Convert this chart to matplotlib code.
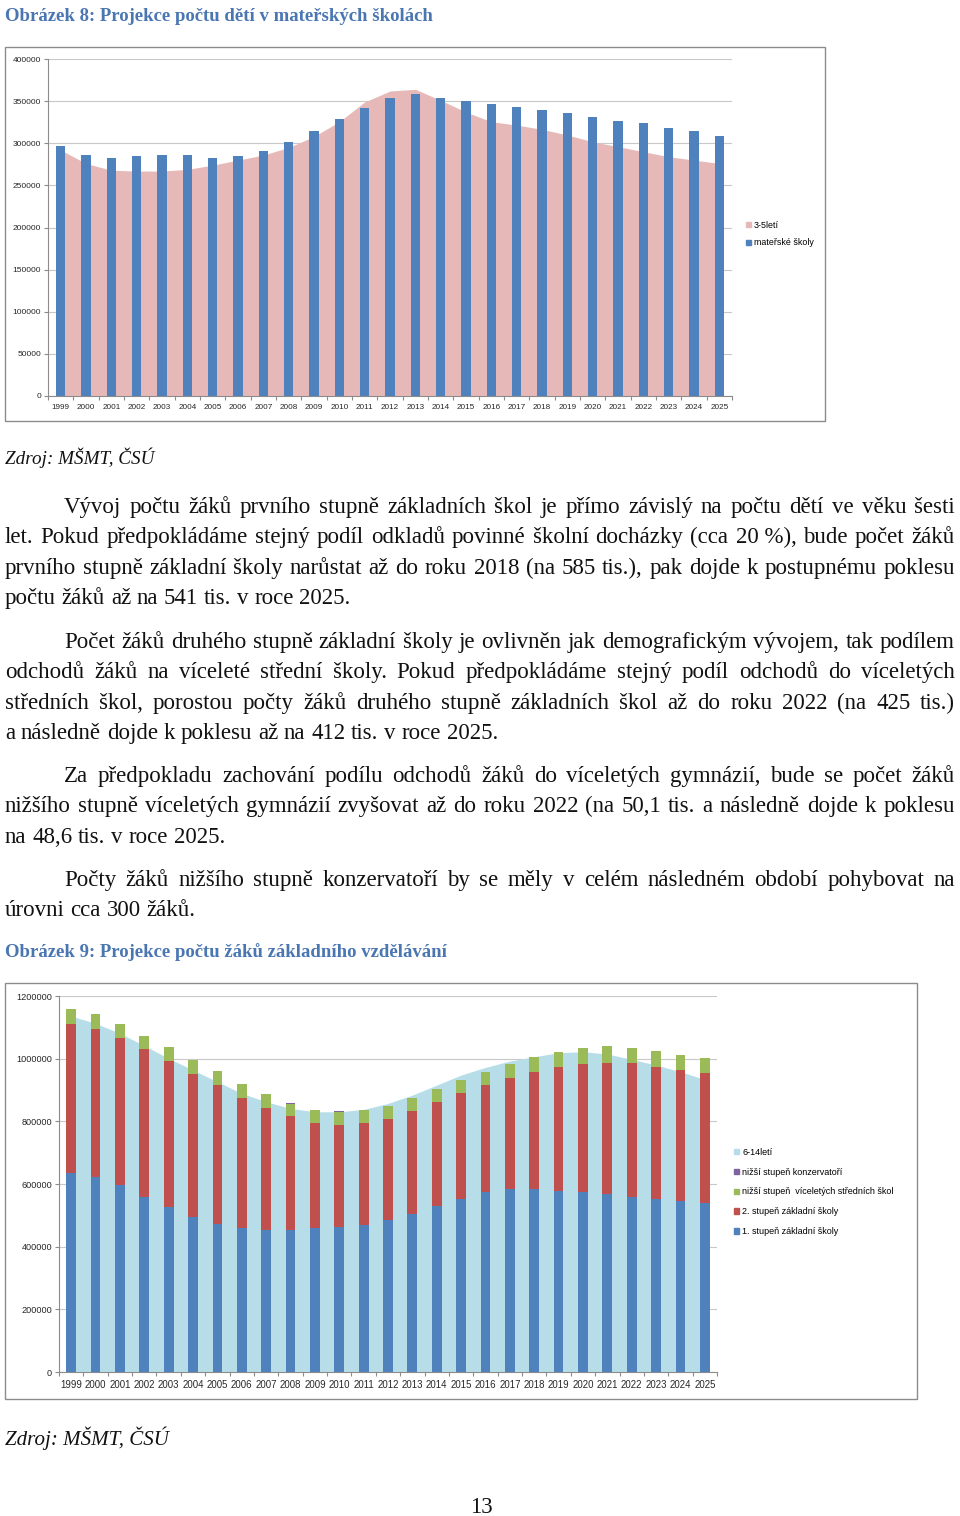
import matplotlib
matplotlib.use("Agg")
import matplotlib.pyplot as plt
from matplotlib.patches import Patch, Rectangle

# ---------------- data ----------------
years = [str(y) for y in range(1999, 2026)]

# Chart 1 (Obrázek 8)
deti_3_5 = [292000, 276000, 268000, 267000, 267000, 269000, 274000, 280000, 286000,
            295000, 308000, 325600, 349000, 362000, 364000, 351000, 337000, 325600,
            321600, 316500, 309800, 301800, 296000, 290000, 284000, 280000, 276000]
materske_skoly = [296700, 285600, 282100, 284800, 286400, 286000, 282100, 285200, 291200,
                  301400, 314100, 328700, 342200, 354100, 358000, 354100, 349700, 346500,
                  343000, 339400, 335500, 331100, 326800, 323600, 318100, 314500, 309000]

# Chart 2 (Obrázek 9)
deti_6_14 = [1136000, 1112700, 1080800, 1041400, 1001000, 963600, 926400, 889100, 862500,
             841200, 830500, 830500, 838000, 857200, 883800, 915700, 947700, 972200,
             992400, 1006200, 1019000, 1022200, 1014800, 997700, 979600, 958300, 933800]
stupen1 = [635700, 622900, 596300, 559000, 528100, 496200, 471700, 461100, 454700,
           454700, 458900, 463200, 470600, 485500, 505800, 530300, 553700, 572900,
           582500, 585000, 578200, 573900, 566500, 560100, 551600, 547300, 540500]
stupen2 = [475900, 472800, 468500, 471700, 464300, 455700, 444000, 413100, 388600,
           360900, 334400, 324800, 322700, 320500, 325800, 331100, 336500, 342800,
           356600, 373300, 396100, 410000, 420600, 424800, 421600, 416300, 412300]
gymnazia = [46600, 46500, 45500, 42300, 43300, 43400, 43400, 44400, 43400,
            41300, 42300, 43300, 43300, 42300, 42300, 41300, 41200, 42300,
            43400, 45500, 47600, 49700, 51800, 50100, 51900, 48700, 48600]
konzervatore = [300] * 27

c_pink = "#E6B9B8"
c_blue = "#4F81BD"
c_red = "#C0504D"
c_green = "#9BBB59"
c_purple = "#8064A2"
c_light = "#B7DEE8"
c_grid = "#C8C8C8"
c_axis = "#8C8C8C"
c_head = "#4A76B2"
c_tick = "#262626"

W, H = 960, 1516
fig = plt.figure(figsize=(W / 100, H / 100), dpi=100)
renderer = fig.canvas.get_renderer()

def fx(x):
    return x / W

def fy(y):
    return 1 - y / H

def ax_px(x0, y0, x1, y1):
    return fig.add_axes([fx(x0), fy(y1), (x1 - x0) / W, (y1 - y0) / H])

def frame(x0, y0, x1, y1):
    fig.patches.append(Rectangle((fx(x0), fy(y1)), (x1 - x0) / W, (y1 - y0) / H,
                                 transform=fig.transFigure, fill=False,
                                 edgecolor="#8C8C8C", linewidth=1.0))

def style_axes(ax, n, ymax, ystep, ysize, xsize, xpad):
    ax.set_xlim(-0.5, n - 0.5)
    ax.set_ylim(0, ymax)
    ticks = list(range(0, ymax + 1, ystep))
    ax.set_yticks(ticks)
    ax.set_yticklabels([str(t) for t in ticks], fontsize=ysize, color=c_tick,
                       family="Liberation Sans")
    ax.set_xticks(range(n))
    ax.set_xticklabels(years, fontsize=xsize, color=c_tick, family="Liberation Sans")
    ax.set_xticks([i - 0.5 for i in range(n + 1)], minor=True)
    ax.tick_params(axis="x", which="major", length=0, pad=xpad)
    ax.tick_params(axis="x", which="minor", length=3, color=c_axis, width=0.8)
    ax.tick_params(axis="y", length=3, color=c_axis, width=0.8, pad=2)
    for s in ["top", "right"]:
        ax.spines[s].set_visible(False)
    for s in ["left", "bottom"]:
        ax.spines[s].set_color(c_axis)
        ax.spines[s].set_linewidth(0.8)
    ax.yaxis.grid(True, color=c_grid, linewidth=0.8, zorder=0)
    ax.set_axisbelow(True)
    ax.patch.set_alpha(0)

x = list(range(len(years)))

# ---------------- chart 1 ----------------
frame(5, 47, 825, 421)
ax1 = ax_px(48, 59, 732, 396)
ax1.fill_between(x, deti_3_5, 0, color=c_pink, linewidth=0, zorder=1)
ax1.bar(x, materske_skoly, width=0.37, color=c_blue, zorder=2)
style_axes(ax1, len(years), 400000, 50000, 6.0, 5.9, 6)
ax1.legend([Patch(color=c_pink), Patch(color=c_blue)], ["3-5letí", "mateřské školy"],
           loc="center left", bbox_to_anchor=(fx(746), fy(234)),
           bbox_transform=fig.transFigure, frameon=False,
           prop={"family": "Liberation Sans", "size": 6.4},
           handlelength=0.55, handleheight=0.55, handletextpad=0.35,
           labelspacing=1.0, borderpad=0, borderaxespad=0)

# ---------------- chart 2 ----------------
frame(5, 983, 917, 1399)
ax2 = ax_px(59, 996, 717, 1372)
ax2.fill_between(x, deti_6_14, 0, color=c_light, linewidth=0, zorder=1)
bw = 0.4
b1 = stupen1
b2 = [a + b for a, b in zip(b1, stupen2)]
b3 = [a + b for a, b in zip(b2, gymnazia)]
ax2.bar(x, stupen1, width=bw, color=c_blue, zorder=2)
ax2.bar(x, stupen2, width=bw, bottom=b1, color=c_red, zorder=2)
ax2.bar(x, gymnazia, width=bw, bottom=b2, color=c_green, zorder=2)
ax2.bar(x, konzervatore, width=bw, bottom=b3, color=c_purple, zorder=2)
style_axes(ax2, len(years), 1200000, 200000, 6.6, 6.9, 6)
ax2.legend([Patch(color=c_light), Patch(color=c_purple), Patch(color=c_green),
            Patch(color=c_red), Patch(color=c_blue)],
           ["6-14letí", "nižší stupeň konzervatoří",
            "nižší stupeň  víceletých středních škol",
            "2. stupeň základní školy", "1. stupeň základní školy"],
           loc="center left", bbox_to_anchor=(fx(734), fy(1192)),
           bbox_transform=fig.transFigure, frameon=False,
           prop={"family": "Liberation Sans", "size": 6.5},
           handlelength=0.55, handleheight=0.55, handletextpad=0.35,
           labelspacing=1.2, borderpad=0, borderaxespad=0)

# ---------------- page text ----------------
SERIF = "Liberation Serif"

def width_px(s, size, **kw):
    t = fig.text(0, 0, s, fontsize=size, family=SERIF, **kw)
    w = t.get_window_extent(renderer).width
    t.remove()
    return w

def fit_size(s, target, **kw):
    return 15 * target / width_px(s, 15, **kw)

def put(s, x, y, size, **kw):
    fig.text(fx(x), fy(y), s, fontsize=size, family=SERIF, va="baseline", ha="left", **kw)

body_size = fit_size("počtu žáků až na 541 tis. v roce 2025.", 347)
space_w = width_px("x x", body_size) - width_px("xx", body_size)

LEFT, RIGHT, INDENT = 5, 955, 64

def line(s, y, first=False, justify=True):
    x0 = INDENT if first else LEFT
    words = s.split(" ")
    widths = [width_px(w, body_size) for w in words]
    if justify and len(words) > 1:
        gap = (RIGHT - x0 - sum(widths)) / (len(words) - 1)
    else:
        gap = space_w
    xx = x0
    for w, wd in zip(words, widths):
        put(w, xx, y, body_size, color="#111111")
        xx += wd + gap

def paragraph(lines, y0, pitch=30.3):
    for i, s in enumerate(lines):
        line(s, y0 + i * pitch, first=(i == 0), justify=(i < len(lines) - 1))

hs = fit_size("Obrázek 8: Projekce počtu dětí v mateřských školách", 430, weight="bold")
put("Obrázek 8: Projekce počtu dětí v mateřských školách", 5, 21, hs,
    weight="bold", color=c_head)

zs = fit_size("Zdroj: MŠMT, ČSÚ", 150, style="italic")
put("Zdroj: MŠMT, ČSÚ", 5, 464, zs, style="italic", color="#111111")

paragraph([
    "Vývoj počtu žáků prvního stupně základních škol je přímo závislý na počtu dětí ve věku šesti",
    "let. Pokud předpokládáme stejný podíl odkladů povinné školní docházky (cca 20\u00a0%), bude počet žáků",
    "prvního stupně základní školy narůstat až do roku 2018 (na 585 tis.), pak dojde k postupnému poklesu",
    "počtu žáků až na 541 tis. v roce 2025.",
], 513)

paragraph([
    "Počet žáků druhého stupně základní školy je ovlivněn jak demografickým vývojem, tak podílem",
    "odchodů žáků na víceleté střední školy. Pokud předpokládáme stejný podíl odchodů do víceletých",
    "středních škol, porostou počty žáků druhého stupně základních škol až do roku 2022 (na 425 tis.)",
    "a následně dojde k poklesu až na 412 tis. v roce 2025.",
], 648)

paragraph([
    "Za předpokladu zachování podílu odchodů žáků do víceletých gymnázií, bude se počet žáků",
    "nižšího stupně víceletých gymnázií zvyšovat až do roku 2022 (na 50,1 tis. a následně dojde k poklesu",
    "na 48,6 tis. v roce 2025.",
], 782)

paragraph([
    "Počty žáků nižšího stupně konzervatoří by se měly v celém následném období pohybovat na",
    "úrovni cca 300 žáků.",
], 886)

h2 = "Obrázek 9: Projekce počtu žáků základního vzdělávání"
put(h2, 5, 957, fit_size(h2, 444, weight="bold"), weight="bold", color=c_head)

zs2 = fit_size("Zdroj: MŠMT, ČSÚ", 165, style="italic")
put("Zdroj: MŠMT, ČSÚ", 5, 1445, zs2, style="italic", color="#111111")

fig.text(fx(481), fy(1513), "13", fontsize=body_size, family=SERIF, ha="center",
         va="baseline", color="#111111")

fig.savefig("out.png", dpi=100)
